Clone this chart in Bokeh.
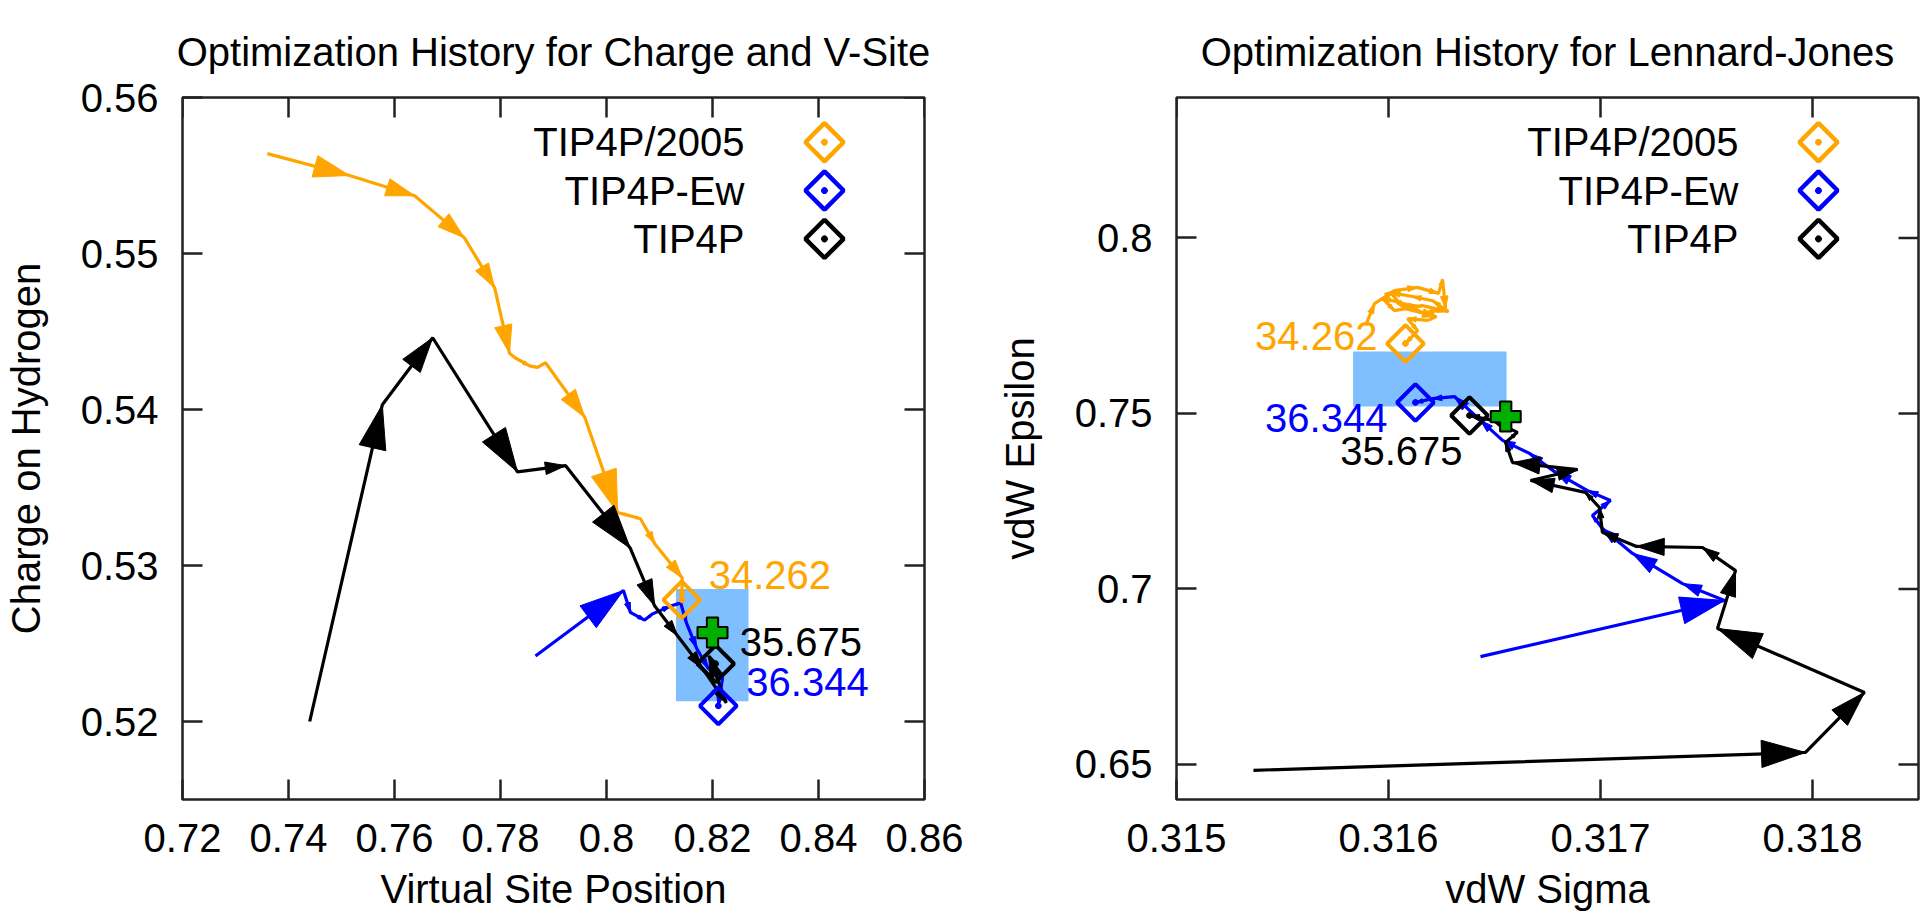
import math
from bokeh.plotting import figure
from bokeh.models import FixedTicker, Range1d
from bokeh.layouts import row
from bokeh.embed import file_html
from bokeh.resources import INLINE
from bokeh.core.properties import value

FONT = "Liberation Sans"
FS = "40px"

# ---------------- Left panel: Charge and V-Site ----------------
cv_xticks = [0.72, 0.74, 0.76, 0.78, 0.80, 0.82, 0.84, 0.86]
cv_xtick_labels = ["0.72", "0.74", "0.76", "0.78", "0.8", "0.82", "0.84", "0.86"]
cv_yticks = [0.52, 0.53, 0.54, 0.55, 0.56]
cv_ytick_labels = ["0.52", "0.53", "0.54", "0.55", "0.56"]

cv_tip4p2005_x = [0.7360, 0.7515, 0.7638, 0.7732, 0.7789, 0.7817, 0.7828, 0.7855, 0.7870,
                  0.7885, 0.7959, 0.8021, 0.8043, 0.8064, 0.8091, 0.8143, 0.8142]
cv_tip4p2005_y = [0.5564, 0.5550, 0.5537, 0.5510, 0.5478, 0.5436, 0.5433, 0.5428, 0.5427,
                  0.5430, 0.5395, 0.5334, 0.5332, 0.5330, 0.5314, 0.5292, 0.5278]
cv_tip4pew_x = [0.7866, 0.8032, 0.8045, 0.8072, 0.8087, 0.8121, 0.8140, 0.8151, 0.8170,
                0.8192, 0.8219, 0.8211]
cv_tip4pew_y = [0.5242, 0.5284, 0.5270, 0.5265, 0.5269, 0.5274, 0.5276, 0.5263, 0.5247,
                0.5234, 0.5228, 0.5210]
cv_tip4p_x = [0.7440, 0.7577, 0.7672, 0.7832, 0.7923, 0.8045, 0.8091, 0.8134, 0.8181,
              0.8226, 0.8193, 0.8206]
cv_tip4p_y = [0.5200, 0.5403, 0.5446, 0.5360, 0.5364, 0.5311, 0.5274, 0.5255, 0.5234,
              0.5212, 0.5242, 0.5237]
cv_box_x = [0.8131, 0.8268]
cv_box_y = [0.5213, 0.5285]
cv_cross_x = [0.8200]
cv_cross_y = [0.5257]

# ---------------- Right panel: Lennard-Jones ----------------
lj_xticks = [0.315, 0.316, 0.317, 0.318]
lj_xtick_labels = ["0.315", "0.316", "0.317", "0.318"]
lj_yticks = [0.65, 0.70, 0.75, 0.80]
lj_ytick_labels = ["0.65", "0.7", "0.75", "0.8"]

lj_tip4p2005_x = [0.315892, 0.315934, 0.316028, 0.316137, 0.316236, 0.316255, 0.316269,
                  0.316170, 0.316057, 0.315972, 0.316028, 0.316160, 0.316283, 0.316208,
                  0.316113, 0.316010, 0.316075, 0.316226, 0.316184, 0.316090, 0.316137,
                  0.316080]
lj_tip4p2005_y = [0.7750, 0.7813, 0.7850, 0.7859, 0.7842, 0.7882, 0.7799, 0.7785, 0.7816,
                  0.7827, 0.7793, 0.7807, 0.7790, 0.7821, 0.7833, 0.7844, 0.7799, 0.7776,
                  0.7765, 0.7770, 0.7736, 0.7699]
lj_tip4pew_x = [0.316434, 0.317585, 0.317387, 0.317151, 0.317009, 0.316962, 0.317047,
                0.316939, 0.316788, 0.316665, 0.316538, 0.316434, 0.316311, 0.316208,
                0.316127]
lj_tip4pew_y = [0.6807, 0.6967, 0.7015, 0.7101, 0.7172, 0.7209, 0.7252, 0.7280, 0.7332,
                0.7386, 0.7423, 0.7480, 0.7548, 0.7542, 0.7531]
lj_tip4p_x = [0.315363, 0.317967, 0.318245, 0.317552, 0.317637, 0.317481, 0.317170,
              0.317009, 0.316995, 0.316929, 0.316670, 0.316892, 0.316585, 0.316552,
              0.316608, 0.316491, 0.316382]
lj_tip4p_y = [0.6483, 0.6534, 0.6705, 0.6887, 0.7052, 0.7118, 0.7121, 0.7161, 0.7232,
              0.7275, 0.7309, 0.7340, 0.7360, 0.7417, 0.7446, 0.7480, 0.7494]
lj_box_x = [0.315833, 0.316557]
lj_box_y = [0.75197, 0.76763]
lj_cross_x = [0.316553]
lj_cross_y = [0.7491]

series_names = ["TIP4P/2005", "TIP4P-Ew", "TIP4P"]
series_colors = ["#FFA500", "#0000FF", "#000000"]
final_scores = ["34.262", "36.344", "35.675"]

FW, FH = 742, 702
TICK = 20          # inward tick length, px
AXIS_COLOR = "#222222"


def style_axis(ax, ticks, labels, standoff, label_standoff):
    ax.ticker = FixedTicker(ticks=ticks)
    ax.major_label_overrides = dict(zip(ticks, labels))
    ax.major_tick_in = TICK
    ax.major_tick_out = 0
    ax.major_tick_line_width = 2.5
    ax.major_tick_line_color = AXIS_COLOR
    ax.minor_tick_line_color = None
    ax.axis_line_color = None
    ax.major_label_text_font = FONT
    ax.major_label_text_color = "black"
    ax.major_label_text_font_size = FS
    ax.major_label_standoff = standoff
    ax.axis_label_text_font = FONT
    ax.axis_label_text_font_size = FS
    ax.axis_label_text_font_style = "normal"
    ax.axis_label_text_color = "black"
    ax.axis_label_standoff = label_standoff


def panel(title, xlabel, ylabel, xr, yr, xticks, xlabels, yticks, ylabels,
          paths, box_x, box_y, cross_x, cross_y, note_offsets, note_align,
          border_left, border_right):
    p = figure(x_range=Range1d(*xr), y_range=Range1d(*yr), frame_width=FW, frame_height=FH,
               output_backend="svg", toolbar_location=None,
               min_border_left=border_left, min_border_right=border_right,
               min_border_top=97, min_border_bottom=121,
               background_fill_color="white", border_fill_color="white")
    xax = p.below[0]
    yax = p.left[0]
    style_axis(xax, xticks, xlabels, 24, 12)
    style_axis(yax, yticks, ylabels, 24, 30)
    xax.axis_label = xlabel
    yax.axis_label = ylabel

    p.title.text = title
    p.title.align = "center"
    p.title.standoff = 48
    p.title.text_font = FONT
    p.title.text_font_size = FS
    p.title.text_font_style = "normal"
    p.title.text_color = "black"
    p.xgrid.visible = False
    p.ygrid.visible = False
    p.outline_line_color = AXIS_COLOR
    p.outline_line_width = 2.5

    sx = FW / (xr[1] - xr[0])   # px per data unit
    sy = FH / (yr[1] - yr[0])
    dx = xr[1] - xr[0]
    dy = yr[1] - yr[0]

    # mirrored inward ticks on the top and right borders
    p.segment(x0=xticks, x1=xticks, y0=[yr[1]] * len(xticks),
              y1=[yr[1] - TICK / sy] * len(xticks), line_color=AXIS_COLOR, line_width=2.5)
    p.segment(x0=[xr[1]] * len(yticks), x1=[xr[1] - TICK / sx] * len(yticks),
              y0=yticks, y1=yticks, line_color=AXIS_COLOR, line_width=2.5)

    # uncertainty box
    p.quad(left=[box_x[0]], right=[box_x[1]], bottom=[box_y[0]], top=[box_y[1]],
           fill_color="#80BFFF", line_color=None)

    # optimisation trajectories drawn as chains of vectors
    for (xs, ys), color in zip(paths, series_colors):
        p.line(xs, ys, line_color=color, line_width=3.2)
        heads_x, heads_y = [], []
        for i in range(len(xs) - 1):
            ux = (xs[i + 1] - xs[i]) * sx
            uy = (ys[i + 1] - ys[i]) * sy
            L = math.hypot(ux, uy)
            if L < 1e-6:
                continue
            ux, uy = ux / L, uy / L
            hl = min(44.0, 0.42 * L)
            hw = 0.31 * hl
            bx = -ux * hl
            by = -uy * hl
            pts = [(0.0, 0.0), (bx - uy * hw, by + ux * hw), (bx + uy * hw, by - ux * hw)]
            heads_x.append([xs[i + 1] + px / sx for px, _ in pts])
            heads_y.append([ys[i + 1] + py / sy for _, py in pts])
        p.patches(heads_x, heads_y, fill_color=color, line_color=color, line_width=1)

    for (xs, ys), color, score, off, al in zip(paths, series_colors, final_scores,
                                              note_offsets, note_align):
        p.scatter(x=[xs[-1]], y=[ys[-1]], marker="square_dot", angle=math.pi / 4, size=26,
                  fill_color=None, line_color=color, line_width=4)
        p.text(x=[xs[-1]], y=[ys[-1]], text=[score], x_offset=off[0], y_offset=off[1],
               text_align=al, text_baseline="middle", text_color=color,
               text_font=value(FONT), text_font_size=FS)

    p.scatter(x=cross_x, y=cross_y, marker="plus", size=30, fill_color="#00B000",
              line_color="black", line_width=2)

    # key: label followed by its sample marker, as in the original
    for i, (name, color) in enumerate(zip(series_names, series_colors)):
        ly = yr[1] - (0.0637 + 0.0688 * i) * dy
        p.text(x=[xr[0] + 0.7574 * dx], y=[ly], text=[name], text_align="right",
               text_baseline="middle", text_color="black", text_font=value(FONT),
               text_font_size=FS)
        p.scatter(x=[xr[0] + 0.8652 * dx], y=[ly], marker="square_dot", angle=math.pi / 4,
                  size=27, fill_color=None, line_color=color, line_width=4.5)
    return p


p1 = panel("Optimization History for Charge and V-Site", "Virtual Site Position",
           "Charge on Hydrogen", (0.72, 0.86), (0.515, 0.56),
           cv_xticks, cv_xtick_labels, cv_yticks, cv_ytick_labels,
           [(cv_tip4p2005_x, cv_tip4p2005_y), (cv_tip4pew_x, cv_tip4pew_y),
            (cv_tip4p_x, cv_tip4p_y)],
           cv_box_x, cv_box_y, cv_cross_x, cv_cross_y,
           [(27, -25), (28, -24), (24, -22)], ["left", "left", "left"], 180, 70)

p2 = panel("Optimization History for Lennard-Jones", "vdW Sigma", "vdW Epsilon",
           (0.315, 0.3185), (0.64, 0.84),
           lj_xticks, lj_xtick_labels, lj_yticks, lj_ytick_labels,
           [(lj_tip4p2005_x, lj_tip4p2005_y), (lj_tip4pew_x, lj_tip4pew_y),
            (lj_tip4p_x, lj_tip4p_y)],
           lj_box_x, lj_box_y, lj_cross_x, lj_cross_y,
           [(-28, -8), (-28, 15), (-7, 35)], ["right", "right", "right"], 182, 4)

layout = row(p1, p2)
open("out.html", "w").write(file_html(layout, INLINE))
